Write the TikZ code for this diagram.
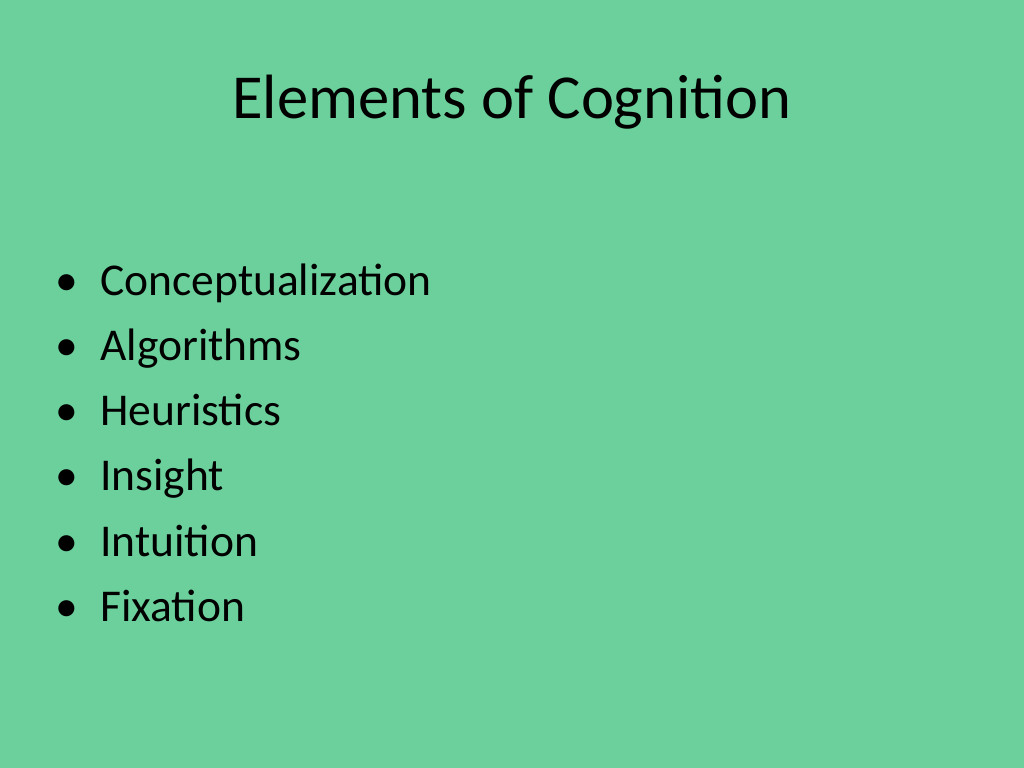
\documentclass[tikz,border=0pt]{standalone}
\usepackage{fontspec}
\setmainfont{Carlito}
\definecolor{bg}{RGB}{107,208,155}
\begin{document}
\begin{tikzpicture}[x=1pt,y=1pt,
  item/.style={anchor=base west,inner sep=0pt,font=\fontsize{32}{38}\selectfont},
  dot/.style={anchor=base west,inner sep=0pt,font=\fontsize{32}{38}\selectfont}]
\fill[bg] (0,0) rectangle (720,540);
\useasboundingbox (0,0) rectangle (720,540);
\node[anchor=base,inner sep=0pt,font=\fontsize{44}{53}\selectfont] (title) at (360,457) {Elements of Cognition};
\foreach \t/\y [count=\i] in {Conceptualization/332.5,Algorithms/286.8,Heuristics/241.1,Insight/195.4,Intuition/149,Fixation/103.3}{
  \node[dot] (b\i) at (39,\y) {•};
  \node[item] (t\i) at (70.3,\y) {\t};
}
\end{tikzpicture}
\end{document}
